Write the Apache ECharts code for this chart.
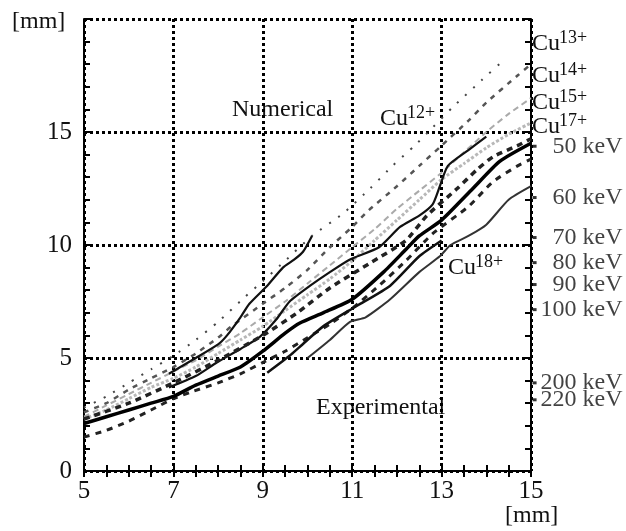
<!DOCTYPE html>
<html>
<head>
<meta charset="utf-8">
<script src="https://cdn.jsdelivr.net/npm/echarts@6/dist/echarts.min.js"></script>
<style>
  html, body { margin: 0; padding: 0; background: #fff; }
  #chart { width: 626px; height: 531px; }
</style>
</head>
<body>
<div id="chart"></div>
<script>
// 轴范围
const xRange = [5, 15]
const yRange = [0, 20]

// 数值计算曲线 (Cu 电荷态)
const cu13 = [[5,2.8],[5.5,3.3],[6,3.9],[6.5,4.5],[7,5.1],[7.5,5.8],[8,6.6],[8.6,7.7],[9,8.4],[9.5,9.3],[10.1,10.4],[10.8,11.4],[11.4,12.5],[11.9,13.5],[12.4,14.4],[12.8,15.2],[13.25,16.1],[13.9,17.3],[14.4,18.2]]
const cu14 = [[5,2.6],[5.5,3.0],[6,3.6],[6.5,4.1],[7,4.6],[7.5,5.2],[8,5.9],[8.3,6.4],[9,7.4],[9.5,8.1],[10,8.9],[10.5,9.9],[11,10.8],[11.35,11.5],[12,12.6],[12.5,13.5],[13,14.4],[13.6,15.5],[14,16.3],[14.7,17.5],[15,18.0]]
const cu15 = [[5,2.4],[5.5,2.9],[6,3.4],[6.5,3.9],[7,4.4],[7.5,4.9],[8,5.5],[8.5,6.1],[9,6.8],[9.5,7.5],[10,8.3],[10.5,9.1],[11,9.9],[11.5,10.7],[12,11.6],[12.5,12.4],[13,13.2],[13.5,14.1],[14,15.0],[14.5,15.8],[15,16.5]]
const cu17 = [[5,2.3],[5.5,2.7],[6,3.2],[6.5,3.7],[7,4.1],[7.5,4.6],[8,5.2],[8.5,5.8],[9,6.4],[9.5,7.1],[10,7.8],[10.5,8.5],[11,9.3],[11.5,10.2],[12,11.1],[12.5,12.0],[13,12.9],[13.5,13.6],[14,14.3],[14.5,14.9],[15,15.4]]

// 实验曲线
const expA = [[6.9,4.3],[7.5,5.0],[8,5.6],[8.2,6.0],[8.5,6.8],[8.7,7.4],[9.1,8.2],[9.45,9.0],[9.7,9.35],[9.9,9.7],[10.1,10.4]]
const expC = [[6.9,3.7],[7.5,4.2],[7.97,4.8],[8.5,5.4],[8.94,5.95],[9.3,6.7],[9.6,7.5],[10.06,8.2],[10.5,8.8],[10.95,9.36],[11.6,9.9],[12.07,10.8],[12.5,11.3],[12.8,11.8],[12.96,12.6],[13.14,13.5],[13.6,14.2],[14,14.8]]
const expMain = [[5,2.1],[5.5,2.4],[6,2.7],[6.5,3.0],[7,3.3],[7.5,3.8],[8,4.2],[8.5,4.6],[9,5.3],[9.5,6.1],[9.83,6.55],[10.35,7.0],[11,7.6],[11.7,8.8],[12.2,9.8],[12.5,10.4],[13,11.1],[13.7,12.5],[14.3,13.7],[15,14.5]]
const expDash1 = [[5,2.3],[6,3.0],[7,3.9],[8,4.9],[9,6.0],[9.77,7.0],[10.5,8.1],[11.4,9.2],[12.2,10.2],[12.67,11.3],[13.35,12.5],[13.8,13.35],[14.15,13.9],[14.7,14.4],[15,14.7]]
const expDash2 = [[5,1.5],[5.5,1.8],[6,2.2],[6.5,2.7],[7,3.2],[7.4,3.5],[8,3.9],[8.5,4.3],[9,4.8],[9.5,5.3],[10,5.9],[10.5,6.5],[11,7.2],[11.6,8.2],[12.2,9.3],[12.8,10.5],[13.6,11.7],[14.15,12.8],[14.7,13.5],[15,13.8]]
const expF = [[9.1,4.35],[9.6,5.1],[9.83,5.5],[10.35,6.4],[11.1,7.3],[11.85,8.2],[12.5,9.5],[13,10.2]]
const expThin = [[10,5.0],[10.5,5.8],[10.95,6.6],[11.3,6.8],[11.85,7.6],[12.5,8.8],[12.96,9.5],[13.2,10.0],[13.6,10.4],[14,10.9],[14.5,12.0],[15,12.6]]

// 右侧能量标记
const kevNames = ['50 keV', '60 keV', '70 keV', '80 keV', '90 keV', '100 keV', '200 keV', '220 keV']
const kevY = [14.37, 12.1, 10.33, 9.22, 8.25, 7.14, 3.9, 3.15]
const kevX = 15.08

const FONT = '"Liberation Serif", "DejaVu Serif", serif'

const chart = echarts.init(document.getElementById('chart'))

const txt = (x, y, s, size, align) => ({
  type: 'text', x: x, y: y, silent: true,
  style: { text: s, fill: '#111', font: size + 'px ' + FONT, textAlign: align || 'left', textVerticalAlign: 'middle' }
})

const cuLabel = (x, y, sup) => [txt(x, y, 'Cu', 24), txt(x + 27, y - 6, sup, 18)]

const axisBase = {
  type: 'value',
  axisLine: { show: true, lineStyle: { color: '#000', width: 2 } },
  axisTick: { show: true, inside: true, length: 6, lineStyle: { color: '#000', width: 2 } },
  minorTick: { show: true, length: 6, lineStyle: { color: '#000', width: 2 } }
}

// 折线通用样式
const lineSeries = (data, color, width, type) => ({
  type: 'line', data: data, showSymbol: false, silent: true, smooth: 0.2,
  lineStyle: { color: color, width: width, type: type || 'solid' }
})

const option = {
  animation: false,
  backgroundColor: '#fff',
  grid: { left: 84, right: 95, top: 19, bottom: 60 },
  xAxis: [
    Object.assign({}, axisBase, {
      min: xRange[0], max: xRange[1], interval: 2,
      minorTick: Object.assign({}, axisBase.minorTick, { splitNumber: 4 }),
      axisLabel: { color: '#111', fontFamily: FONT, fontSize: 25, margin: 8 },
      splitLine: { show: true, lineStyle: { color: '#000', width: 3, type: [3, 3] } }
    }),
    Object.assign({}, axisBase, {
      position: 'top', min: xRange[0], max: xRange[1], interval: 2,
      minorTick: Object.assign({}, axisBase.minorTick, { splitNumber: 4 }),
      axisLabel: { show: false }, splitLine: { show: false }
    })
  ],
  yAxis: [
    Object.assign({}, axisBase, {
      min: yRange[0], max: yRange[1], interval: 5,
      minorTick: Object.assign({}, axisBase.minorTick, { splitNumber: 5 }),
      axisLabel: { color: '#111', fontFamily: FONT, fontSize: 25, margin: 12, formatter: v => v === 20 ? '' : v },
      splitLine: { show: true, lineStyle: { color: '#000', width: 3, type: [3, 3] } }
    }),
    Object.assign({}, axisBase, {
      position: 'right', min: yRange[0], max: yRange[1], interval: 5,
      minorTick: Object.assign({}, axisBase.minorTick, { splitNumber: 5 }),
      axisLabel: { show: false }, splitLine: { show: false }
    })
  ],
  series: [
    lineSeries(cu13, '#444', 2, [2, 9]),
    lineSeries(cu14, '#555', 2.5, [5, 6]),
    lineSeries(cu15, '#aaa', 2, [6, 4]),
    lineSeries(cu17, '#b8b8b8', 3, [3, 2]),
    lineSeries(expA, '#111', 2.2),
    lineSeries(expC, '#111', 2.2),
    lineSeries(expDash1, '#222', 3.5, [6, 5]),
    lineSeries(expDash2, '#222', 3, [6, 6]),
    lineSeries(expMain, '#000', 3.5),
    lineSeries(expF, '#111', 2.5),
    lineSeries(expThin, '#333', 2),
    {
      type: 'scatter', clip: false, silent: true,
      symbol: 'rect', symbolSize: [4, 3],
      itemStyle: { color: '#000' },
      data: kevY.map((y, i) => ({ value: [kevX, y], name: kevNames[i] })),
      label: {
        show: true, position: [90, 1.5], align: 'right', verticalAlign: 'middle',
        formatter: p => p.name, color: '#111', fontFamily: FONT, fontSize: 24
      }
    }
  ],
  graphic: [
    txt(12, 22, '[mm]', 24),
    txt(505, 516, '[mm]', 24),
    txt(232, 110, 'Numerical', 24),
    txt(316, 408, 'Experimental', 24)
  ].concat(
    cuLabel(380, 119, '12+'),
    cuLabel(532, 44, '13+'),
    cuLabel(532, 76, '14+'),
    cuLabel(532, 103, '15+'),
    cuLabel(532, 127, '17+'),
    cuLabel(448, 268, '18+')
  )
}

chart.setOption(option)
</script>
</body>
</html>
